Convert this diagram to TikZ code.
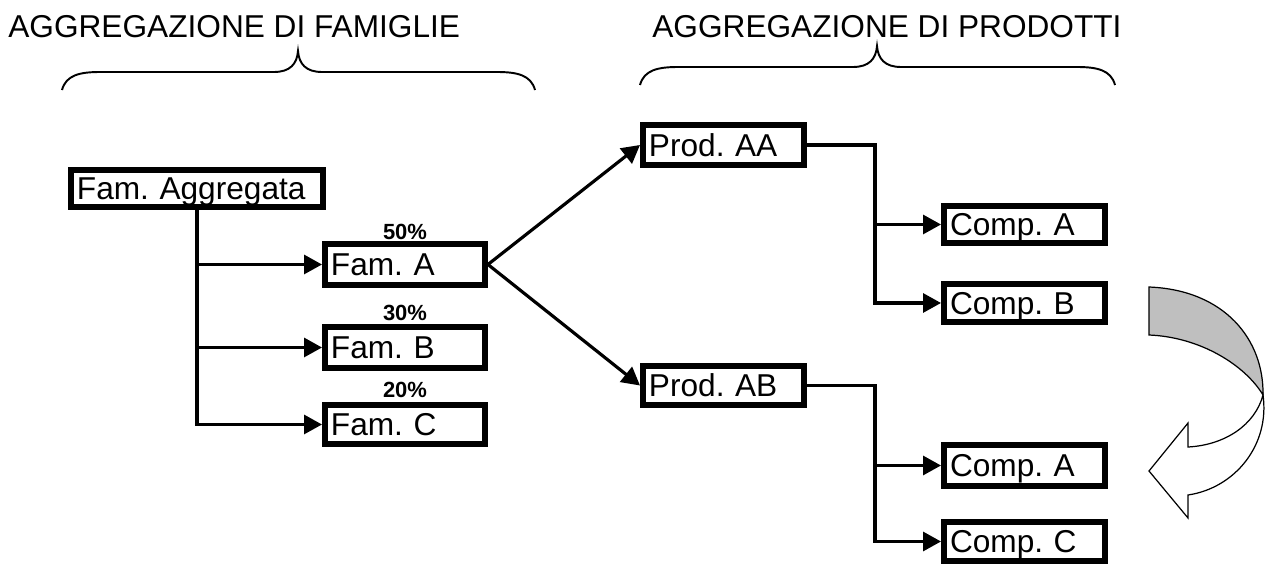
\documentclass[tikz,border=0pt]{standalone}
\usepackage{fontspec}
\setmainfont{Liberation Sans}
\usetikzlibrary{arrows.meta}
\frenchspacing
\newcommand*{\Graffa}[5]{\draw[graffa] (#1,#5) .. controls (#1+4,#4+3) and (#1+18,#4)
  .. (#1+38,#4) -- (#2-24,#4) .. controls (#2-8,#4) and (#2-1,#4-8) .. (#2,#4-21)
  .. controls (#2+1,#4-8) and (#2+8,#4) .. (#2+24,#4) -- (#3-38,#4)
  .. controls (#3-18,#4) and (#3-4,#4+3) .. (#3,#5);}
\tikzset{
  blocco/.style={draw, line width=3.4pt, anchor=north west, inner xsep=0.12cm,
    inner ysep=0pt, align=left, text depth=0pt, font=\fontsize{18}{18}\selectfont},
  perc/.style={inner sep=0pt, font=\bfseries\fontsize{12.5}{12.5}\selectfont},
  titolo/.style={anchor=base west, inner sep=0pt, font=\fontsize{18}{18}\selectfont},
  freccia/.style={line width=1.8pt, -{Triangle[length=0.36cm,width=0.38cm]}},
  graffa/.style={line width=1.1pt},
}

\begin{document}
\begin{tikzpicture}[x=0.02cm, y=-0.02cm]
    \useasboundingbox (0,0) rectangle (1266,565);
    \node[titolo] (t1) at (8,37) {AGGREGAZIONE DI FAMIGLIE};
    \node[titolo] (t2) at (652,37) {AGGREGAZIONE DI PRODOTTI};
    \Graffa{62}{298}{535}{72}{90}
    \Graffa{640}{877}{1115}{67}{85}
    \node[blocco, text width=4.8cm, minimum height=0.74cm] (agg) at (68,167) {Fam. Aggregata};
    \node[blocco, text width=2.96cm, minimum height=0.82cm] (fa) at (322,241) {Fam. A};
    \node[blocco, text width=2.96cm, minimum height=0.82cm] (fb) at (322,324) {Fam. B};
    \node[blocco, text width=2.96cm, minimum height=0.78cm] (fc) at (322,402) {Fam. C};
    \node[perc] (p50) at (405,232) {50\%};
    \node[perc] (p30) at (405,313) {30\%};
    \node[perc] (p20) at (405,390) {20\%};
    \node[blocco, text width=2.98cm, minimum height=0.8cm] (paa) at (640,122) {Prod. AA};
    \node[blocco, text width=2.98cm, minimum height=0.78cm] (pab) at (640,363) {Prod. AB};
    \node[blocco, text width=2.98cm, minimum height=0.74cm] (ca1) at (941,203) {Comp. A};
    \node[blocco, text width=2.98cm, minimum height=0.76cm] (cb) at (941,281) {Comp. B};
    \node[blocco, text width=2.98cm, minimum height=0.82cm] (ca2) at (941,442) {Comp. A};
    \node[blocco, text width=2.98cm, minimum height=0.78cm] (cc) at (941,519) {Comp. C};
    \draw[freccia] (agg.south) |- (fc.west);
    \draw[freccia] (agg.south |- fa.west) -- (fa.west);
    \draw[freccia] (agg.south |- fb.west) -- (fb.west);
    \draw[freccia] (fa.east) -- (paa.west);
    \draw[freccia] (fa.east) -- (pab.west);
    \draw[freccia] (paa.east) -- ++(68,0) coordinate (s1) |- (cb.west);
    \draw[freccia] (s1 |- ca1.west) -- (ca1.west);
    \draw[freccia] (pab.east) -- ++(68,0) coordinate (s2) |- (cc.west);
    \draw[freccia] (s2 |- ca2.west) -- (ca2.west);
    \filldraw[line width=0.7pt, fill=black!25] (1149,287) .. controls (1225,290) and (1264,340)
      .. (1263,395) .. controls (1245,365) and (1200,337) .. (1149,335) -- cycle;
    \filldraw[line width=0.7pt, fill=white] (1263,395) .. controls (1255,425) and (1225,445)
      .. (1188,447) -- (1188,423) -- (1149,471) -- (1188,518) -- (1188,495)
      .. controls (1235,488) and (1270,445) .. (1263,395) -- cycle;
\end{tikzpicture}
\end{document}
